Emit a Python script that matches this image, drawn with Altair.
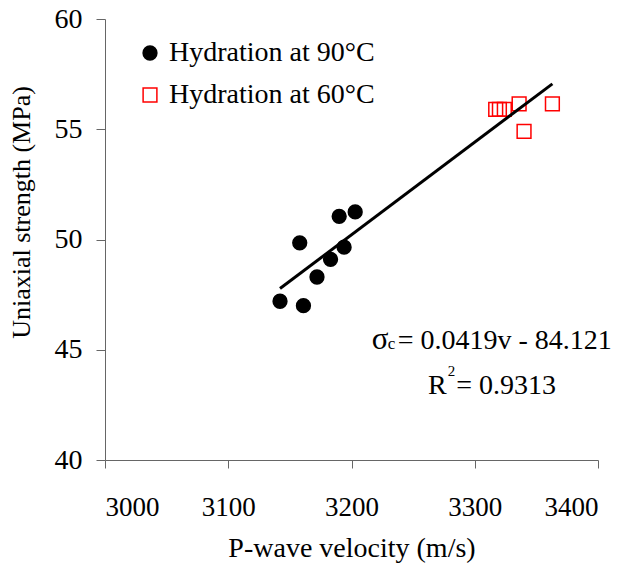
import altair as alt
import pandas as pd

# --- data ---
v90 = [3142, 3161, 3158, 3172, 3183, 3194, 3190, 3203]
s90 = [47.2, 47.0, 49.85, 48.3, 49.1, 49.65, 51.05, 51.25]
v60 = [3317, 3320, 3324, 3336, 3363, 3340]
s60 = [55.9, 55.9, 55.9, 56.15, 56.15, 54.9]
series = ["Hydration at 90°C", "Hydration at 60°C"]

x_ticks = [3000, 3100, 3200, 3300, 3400]
y_ticks = [40, 45, 50, 55, 60]

# annotation text (equation of the fit)
ann_text = ["σ", "c", "= 0.0419v - 84.121", "R", "2", "= 0.9313"]
ann_v = [3216.5, 3229.5, 3237.5, 3262.0, 3278.0, 3285.0]
ann_s = [45.05, 45.05, 45.05, 43.0, 43.8, 43.0]
ann_size = [31, 17, 28, 28, 15, 28]

FONT = "Liberation Serif"

df = pd.DataFrame({
    "v": v90 + v60,
    "s": s90 + s60,
    "series": [series[0]] * len(v90) + [series[1]] * len(v60),
})
ann = pd.DataFrame({"t": ann_text, "v": ann_v, "s": ann_s, "size": ann_size})

xscale = alt.Scale(domain=[3000, 3400], nice=False, zero=False)
yscale = alt.Scale(domain=[40, 60], nice=False, zero=False)

xax = alt.Axis(values=x_ticks, title="P-wave velocity (m/s)", grid=False,
               labelFont=FONT, titleFont=FONT, labelFontSize=27, titleFontSize=28,
               titleFontWeight="normal", labelColor="black", titleColor="black",
               domainColor="#666666", tickColor="#666666", tickSize=8,
               labelPadding=26, titlePadding=14, format="d")
yax = alt.Axis(values=y_ticks, title="Uniaxial strength (MPa)", grid=False,
               labelFont=FONT, titleFont=FONT, labelFontSize=28, titleFontSize=26,
               titleFontWeight="normal", labelColor="black", titleColor="black",
               domainColor="#666666", tickColor="#666666", tickSize=9,
               labelPadding=14, titlePadding=20, titleY=193)

leg = alt.Legend(title=None, orient="none", legendX=31, legendY=20,
                 labelFont=FONT, labelFontSize=28, labelColor="black", labelLimit=0,
                 symbolSize=190, symbolStrokeWidth=1.5, rowPadding=14,
                 labelOffset=5)

points = alt.Chart(df).mark_point(strokeWidth=1.5, opacity=1, size=190).encode(
    x=alt.X("v:Q", scale=xscale, axis=xax),
    y=alt.Y("s:Q", scale=yscale, axis=yax),
    shape=alt.Shape("series:N", scale=alt.Scale(domain=series, range=["circle", "square"]),
                    legend=leg),
    color=alt.Color("series:N", scale=alt.Scale(domain=series, range=["black", "red"]),
                    legend=leg),
    fill=alt.Fill("series:N", scale=alt.Scale(domain=series, range=["black", "transparent"]),
                  legend=leg),
)

line = alt.Chart(df).transform_regression("v", "s").mark_line(
    color="black", strokeWidth=3
).encode(x=alt.X("v:Q", scale=xscale), y=alt.Y("s:Q", scale=yscale))

text = alt.Chart(ann).mark_text(align="left", baseline="alphabetic", font=FONT,
                                color="black").encode(
    x=alt.X("v:Q", scale=xscale),
    y=alt.Y("s:Q", scale=yscale),
    text="t:N",
    size=alt.Size("size:Q", scale=None, legend=None),
)

chart = alt.layer(points, line, text).properties(
    width=493, height=441,
    autosize=alt.AutoSizeParams(type="none"),
    padding={"left": 97, "top": 11, "right": 18, "bottom": 105},
).configure_view(stroke=None)

chart.save("out.html", embed_options={"renderer": "svg", "actions": False})
